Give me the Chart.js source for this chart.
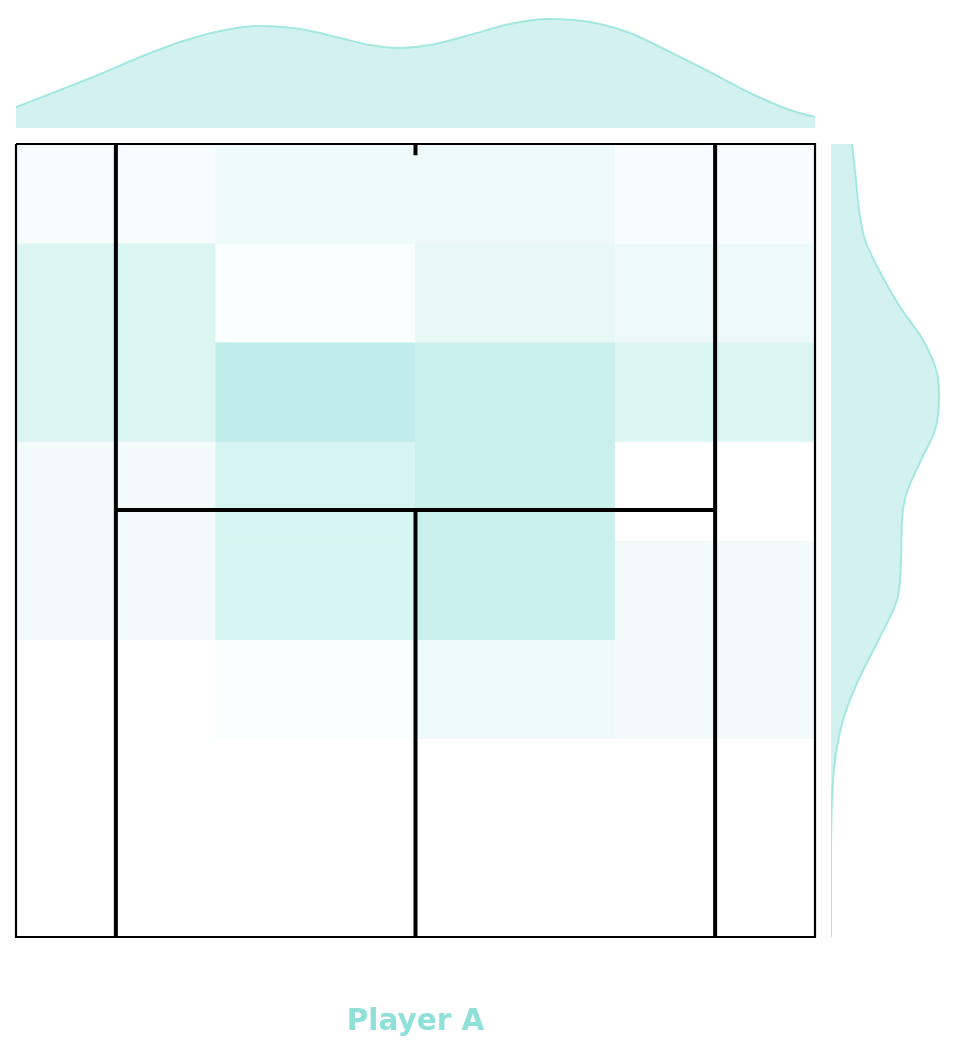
<!DOCTYPE html>
<html>
<head>
<meta charset="utf-8">
<script src="https://cdn.jsdelivr.net/npm/chart.js@4.4.1/dist/chart.umd.min.js"></script>
<style>
  body { margin: 0; background: #fff; }
  canvas { position: absolute; }
</style>
</head>
<body>
<canvas id="topKde" width="799" height="130" style="left:16px;top:0px"></canvas>
<canvas id="sideKde" width="129" height="793" style="left:831px;top:144px"></canvas>
<canvas id="court" width="807" height="908" style="left:12px;top:140px"></canvas>
<script>
// heatmap: share of shots per zone (percent), rows from baseline (top) to net (bottom)
const zoneCols = ['Wide L', 'Centre L', 'Centre R', 'Wide R'];
const zoneRows = [
  [7, 14, 15, 7],
  [32, 6, 21, 15],
  [32, 57, 47, 32],
  [12, 37, 47, 0],
  [12, 37, 47, 12],
  [0, 6, 15, 12],
  [0, 0, 0, 0],
  [0, 0, 0, 0],
];

// marginal density across the court width (feet from centre)
const widthPos = [-18, -16.0, -14.2, -12.4, -10.6, -8.8, -7.1, -5.2, -3.4, -2.05, -0.83, 0.65, 2.45, 4.25, 5.97, 7.86, 9.66, 11.46, 13.26, 15.07, 16.87, 18];
const widthDens = [0.021, 0.038, 0.054, 0.071, 0.086, 0.097, 0.102, 0.099, 0.090, 0.083, 0.080, 0.083, 0.093, 0.104, 0.109, 0.106, 0.095, 0.076, 0.056, 0.035, 0.018, 0.011];

// marginal density along the court length (feet from baseline)
const depthPos = [0, 1.77, 3.25, 4.72, 6.2, 8.02, 9.64, 11.26, 12.44, 14.07, 15.54, 17.26, 18.49, 20.46, 22.43, 24.54, 26.51, 28.33, 30.3, 32.26, 35.56, 39];
const depthDens = [0.021, 0.025, 0.028, 0.034, 0.048, 0.069, 0.092, 0.106, 0.108, 0.104, 0.090, 0.075, 0.071, 0.070, 0.066, 0.046, 0.026, 0.012, 0.004, 0.001, 0, 0];

// court (half, in feet): doubles width 36, singles 27, baseline to net 39, service line 18
const courtHalfW = 18, singlesHalfW = 13.5, halfLen = 39, serviceLine = 18, centreMark = 0.55;

const teal = [143, 224, 216];
const shade = v => {
  const t = v / 100;
  const c = teal.map(ch => Math.round(255 - t * (255 - ch)));
  return `rgb(${c[0]},${c[1]},${c[2]})`;
};

const lineSet = (pts, w) => ({
  type: 'line',
  xAxisID: 'xc',
  yAxisID: 'yc',
  data: pts.map(p => ({ x: p[0], y: p[1] })),
  borderColor: '#000',
  borderWidth: w,
  borderCapStyle: 'butt',
  pointRadius: 0,
  fill: false,
  tension: 0,
  clip: false,
  order: 0,
});

const courtSets = [
  lineSet([[-courtHalfW, 0], [courtHalfW, 0], [courtHalfW, halfLen], [-courtHalfW, halfLen], [-courtHalfW, 0]], 2.2),
  lineSet([[-singlesHalfW, 0], [-singlesHalfW, halfLen]], 4),
  lineSet([[singlesHalfW, 0], [singlesHalfW, halfLen]], 4),
  lineSet([[-singlesHalfW, serviceLine], [singlesHalfW, serviceLine]], 4),
  lineSet([[0, serviceLine], [0, halfLen]], 4),
  lineSet([[0, 0], [0, centreMark]], 4),
];

const heatSets = zoneRows.map(row => ({
  data: row.map(() => 1),
  backgroundColor: row.map(shade),
  borderWidth: 0,
  categoryPercentage: 1,
  barPercentage: 1,
  grouped: false,
  order: 1,
}));

new Chart(document.getElementById('court'), {
  type: 'bar',
  data: { labels: zoneCols, datasets: [...heatSets, ...courtSets] },
  options: {
    responsive: false,
    animation: false,
    layout: { padding: 4 },
    plugins: {
      legend: { display: false },
      tooltip: { enabled: false },
      title: {
        display: true,
        text: 'Player A',
        position: 'bottom',
        color: '#8fe0d8',
        font: { family: 'DejaVu Sans', size: 29.5, weight: 'bold', lineHeight: 1.2 },
        padding: { top: 67.3, bottom: 4.3 },
      },
    },
    scales: {
      x: { display: false, stacked: true, grid: { display: false } },
      y: { display: false, stacked: true, reverse: true, min: 0, max: 8 },
      xc: { type: 'linear', display: false, offset: false, min: -courtHalfW, max: courtHalfW },
      yc: { type: 'linear', display: false, offset: false, reverse: true, min: 0, max: halfLen },
    },
  },
});

const kdeLine = '#a3e8e0';
const kdeFill = '#d3f2ef';

new Chart(document.getElementById('topKde'), {
  type: 'line',
  data: {
    datasets: [{
      data: widthPos.map((p, i) => ({ x: p, y: widthDens[i] })),
      borderColor: kdeLine,
      backgroundColor: kdeFill,
      borderWidth: 2,
      pointRadius: 0,
      fill: 'origin',
      cubicInterpolationMode: 'monotone',
    }],
  },
  options: {
    responsive: false,
    animation: false,
    layout: { padding: 0 },
    plugins: { legend: { display: false }, tooltip: { enabled: false } },
    scales: {
      x: { type: 'linear', display: false, min: -courtHalfW, max: courtHalfW },
      y: { display: false, min: -0.002, max: 0.128 },
    },
  },
});

new Chart(document.getElementById('sideKde'), {
  type: 'line',
  data: {
    datasets: [{
      data: depthPos.map((p, i) => ({ x: depthDens[i], y: p })),
      borderColor: kdeLine,
      backgroundColor: kdeFill,
      borderWidth: 2,
      pointRadius: 0,
      fill: 'origin',
      cubicInterpolationMode: 'monotone',
    }],
  },
  options: {
    indexAxis: 'y',
    responsive: false,
    animation: false,
    layout: { padding: 0 },
    plugins: { legend: { display: false }, tooltip: { enabled: false } },
    scales: {
      x: { type: 'linear', display: false, min: 0, max: 0.129 },
      y: { type: 'linear', display: false, reverse: true, min: 0, max: halfLen },
    },
  },
});
</script>
</body>
</html>
